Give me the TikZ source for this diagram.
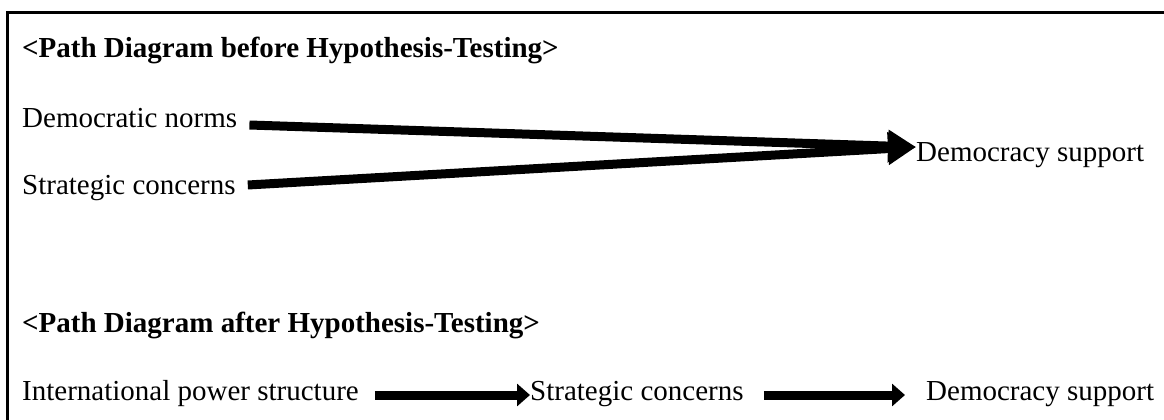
\documentclass[tikz,border=0pt]{standalone}
\usepackage{fontspec}
\setmainfont{Liberation Serif}
\usepackage{tikz}
\usetikzlibrary{arrows.meta, positioning}
\newcommand{\pathFont}{\fontsize{29}{34}\selectfont}

\tikzset{
  lbl/.style={inner sep=0pt, anchor=base west, font=\pathFont},
  ttl/.style={lbl, font=\pathFont\bfseries},
  bigarrow/.style={line width=9pt, -{Triangle[length=28pt,width=31pt]}},
  smallarrow/.style={line width=9pt, -{Triangle[length=13pt,width=22pt]}}
}

\begin{document}
\begin{tikzpicture}[x=1pt,y=-1pt]
\useasboundingbox (0,0) rectangle (1164,420);
\draw[line width=3pt] (7,420) -- (7,13) -- (1164,13);

\node[ttl] (before) at (22,58) {<Path Diagram before Hypothesis-Testing>};
\node[lbl] (norms) at (22,127) {Democratic norms};
\node[lbl] (strat) at (22,194) {Strategic concerns};
\node[lbl] (demsup) at (916,161) {Democracy support};
\draw[bigarrow] ([xshift=12pt,yshift=2pt]norms.base east) -- ([yshift=14pt]demsup.base west);
\draw[bigarrow] ([xshift=12pt,yshift=9pt]strat.base east) -- ([yshift=14pt]demsup.base west);

\node[ttl] (after) at (22,332) {<Path Diagram after Hypothesis-Testing>};
\node[lbl] (power) at (22,400) {International power structure};
\node[lbl] (strat2) at (530,400) {Strategic concerns};
\node[lbl] (demsup2) at (926,400) {Democracy support};
\draw[smallarrow] ([xshift=16pt,yshift=5pt]power.base east) -- ([yshift=5pt]strat2.base west);
\draw[smallarrow] ([xshift=20pt,yshift=5pt]strat2.base east) -- ([xshift=-21pt,yshift=5pt]demsup2.base west);
\end{tikzpicture}
\end{document}
